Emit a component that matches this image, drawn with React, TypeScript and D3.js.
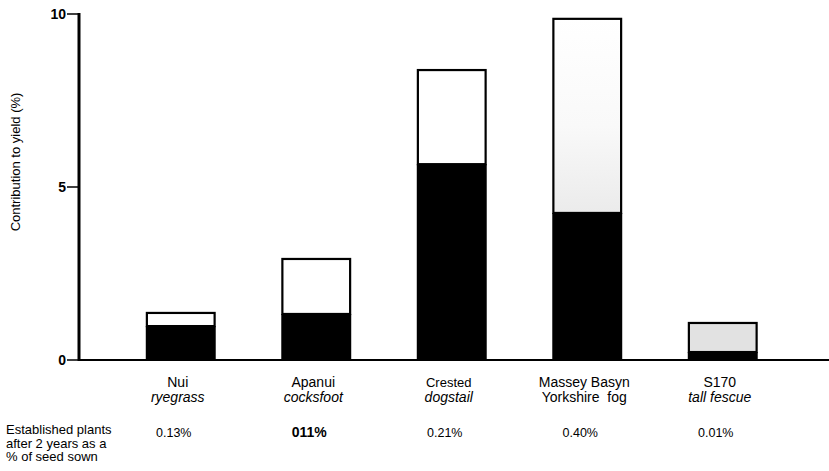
import * as d3 from "d3";
import { useEffect } from "react";

const width = 829;
const height = 471;
const axisX = 79;
const axisY = 360;
const topY = 14;

const categories = ["Nui", "Apanui", "Crested", "Massey Basyn", "S170"];
const subNames = ["ryegrass", "cocksfoot", "dogstail", "Yorkshire  fog", "tall fescue"];
const subItalic = [true, true, true, false, true];
const blackValues = [0.98, 1.33, 5.66, 4.25, 0.23];
const totalValues = [1.36, 2.92, 8.38, 9.86, 1.07];
const upperFills = ["#ffffff", "#ffffff", "#ffffff", "url(#stippleLight)", "#e2e2e2"];
const established = ["0.13%", "011%", "0.21%", "0.40%", "0.01%"];
const rowLabel = ["Established plants", "after 2 years as a", "% of seed sown"];
const yTicks = [0, 5, 10];

const font = "'Liberation Sans', Arial, Helvetica, sans-serif";

const App = () => {
  useEffect(() => {
    document.body.style.margin = "0";
  }, []);

  const x = d3
    .scaleBand<string>()
    .domain(categories)
    .range([113, 790.5])
    .paddingInner(0.5)
    .paddingOuter(0.25);

  const y = d3.scaleLinear().domain([0, 10]).range([axisY, topY]);

  return (
    <svg width={width} height={height} style={{ display: "block", background: "#fff" }} fontFamily={font}>
      <defs>
        <linearGradient id="stippleLight" x1="0" y1="0" x2="0" y2="1">
          <stop offset="0" stopColor="#ffffff" />
          <stop offset="0.55" stopColor="#f9f9f9" />
          <stop offset="1" stopColor="#ebebeb" />
        </linearGradient>
      </defs>

      {/* bars */}
      {categories.map((c, i) => {
        const bx = x(c) as number;
        const bw = x.bandwidth();
        return (
          <g key={c}>
            <rect
              x={bx}
              y={y(totalValues[i])}
              width={bw}
              height={y(blackValues[i]) - y(totalValues[i])}
              fill={upperFills[i]}
              stroke="#000"
              strokeWidth={2.2}
            />
            <rect
              x={bx - 1.1}
              y={y(blackValues[i])}
              width={bw + 2.2}
              height={axisY - y(blackValues[i])}
              fill="#000"
            />
          </g>
        );
      })}

      {/* axes */}
      <line x1={axisX} x2={width} y1={axisY} y2={axisY} stroke="#000" strokeWidth={2} />
      <line x1={axisX} x2={axisX} y1={topY - 1} y2={axisY + 1} stroke="#000" strokeWidth={3} />
      {yTicks.map((t) => (
        <g key={t}>
          <line x1={axisX - 12} x2={axisX} y1={y(t)} y2={y(t)} stroke="#000" strokeWidth={1.5} />
          <text
            x={axisX - 13}
            y={y(t)}
            dy="0.35em"
            textAnchor="end"
            fontSize={14}
            fontWeight="bold"
          >
            {t}
          </text>
        </g>
      ))}
      <text
        transform={`translate(20, ${162}) rotate(-90)`}
        textAnchor="middle"
        fontSize={13}
      >
        Contribution to yield (%)
      </text>

      {/* category labels */}
      {categories.map((c, i) => {
        const cx = (x(c) as number) + x.bandwidth() / 2;
        return (
          <g key={c}>
            <text x={cx - 3} y={387} textAnchor="middle" fontSize={i === 2 ? 13 : 14}>
              {c}
            </text>
            <text
              x={cx - 3}
              y={402}
              textAnchor="middle"
              fontSize={14}
              fontStyle={subItalic[i] ? "italic" : "normal"}
              style={{ whiteSpace: "pre" }}
            >
              {subNames[i]}
            </text>
            <text
              x={cx - 7}
              y={437}
              textAnchor="middle"
              fontSize={i === 1 ? 14 : 12.5}
              fontWeight={i === 1 ? "bold" : "normal"}
            >
              {established[i]}
            </text>
          </g>
        );
      })}

      {/* row label */}
      {rowLabel.map((line, i) => (
        <text key={line} x={6} y={434 + i * 13.5} fontSize={13}>
          {line}
        </text>
      ))}
    </svg>
  );
};

export default App;
